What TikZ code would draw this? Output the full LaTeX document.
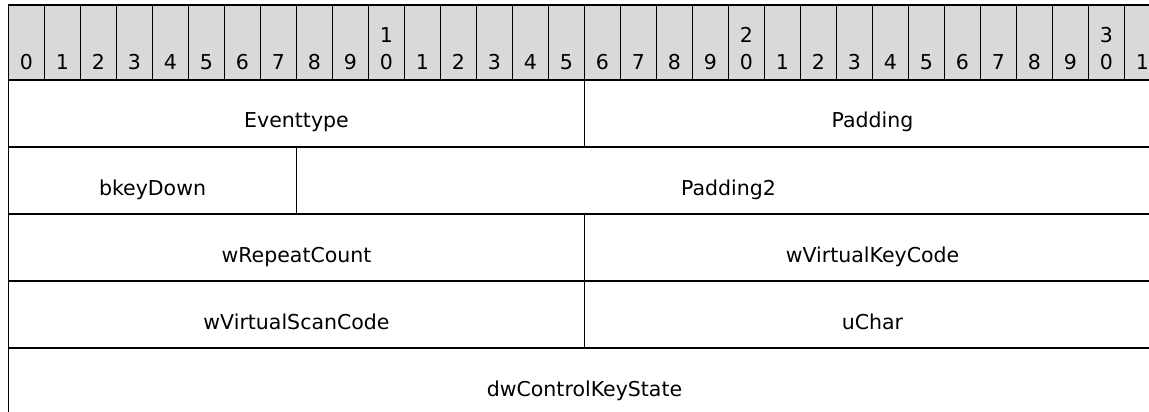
\documentclass[tikz,border=0pt]{standalone}
\usepackage{fontspec}
\setmainfont{DejaVu Sans}
\begin{document}
\begin{tikzpicture}[
    x=1pt, y=-1pt,
    font=\fontsize{20.5}{24}\selectfont,
    % one bit of the ruler along the top
    bitcell/.style={draw, line width=1.3pt, fill=black!15, minimum width=36pt,
        minimum height=75pt, inner sep=0pt, outer sep=0pt},
    % a field that is #1 bits wide
    field/.style={draw, line width=1.3pt, minimum width=#1*36pt,
        text height=48pt, text depth=19pt, inner sep=0pt, outer sep=0pt}
]
    % the picture is cut off at the right and at the bottom
    \clip (0,0) rectangle (1149,412);

    % --- Bit ruler ---
    \foreach \i in {0,...,31} {
        \pgfmathtruncatemacro{\units}{mod(\i,10)}
        \pgfmathtruncatemacro{\tens}{\i/10}
        \node[bitcell, anchor=north west] (b\i) at ({8.5+36*\i},5) {};
        \node[anchor=base] at ([yshift=10pt]b\i.south) {\units};
        \ifnum\units=0 \ifnum\i>0
            \node[anchor=base] at ([yshift=37pt]b\i.south) {\tens};
        \fi\fi
    }

    % --- Fields, one row of 32 bits at a time ---
    \node[field=16, anchor=north west] (eventtype) at (b0.south west) {Eventtype};
    \node[field=16, anchor=north west] (padding) at (eventtype.north east) {Padding};

    \node[field=8, anchor=north west] (keydown) at (eventtype.south west) {bkeyDown};
    \node[field=24, anchor=north west] (padding2) at (keydown.north east) {Padding2};

    \node[field=16, anchor=north west] (repeat) at (keydown.south west) {wRepeatCount};
    \node[field=16, anchor=north west] (keycode) at (repeat.north east) {wVirtualKeyCode};

    \node[field=16, anchor=north west] (scancode) at (repeat.south west) {wVirtualScanCode};
    \node[field=16, anchor=north west] (uchar) at (scancode.north east) {uChar};

    \node[field=32, anchor=north west] (keystate) at (scancode.south west) {dwControlKeyState};
\end{tikzpicture}
\end{document}
